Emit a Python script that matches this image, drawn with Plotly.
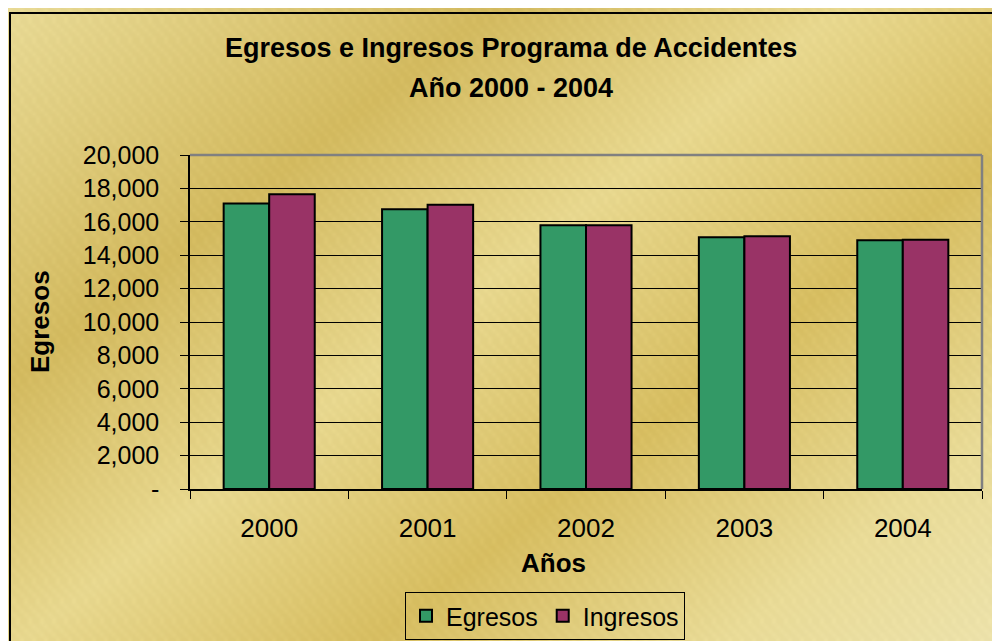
import zlib, struct, base64
import numpy as np
import plotly.graph_objects as go

# ---- data ----
years = ["2000", "2001", "2002", "2003", "2004"]
egresos = [17100, 16750, 15800, 15080, 14890]
ingresos = [17650, 17020, 15800, 15140, 14930]
y_tickvals = [0, 2000, 4000, 6000, 8000, 10000, 12000, 14000, 16000, 18000, 20000]
y_ticktext = ["-", "2,000", "4,000", "6,000", "8,000", "10,000", "12,000",
              "14,000", "16,000", "18,000", "20,000"]

# ---- gold gradient background as an inline PNG ----
W, H = 250, 160
xx, yy = np.meshgrid(np.arange(W) * 4.0, np.arange(H) * 4.0)
s = xx + 1.3 * yy
stops = [0, 500, 850, 1200, 1550, 1850]
light = np.array([0xE8, 0xDA, 0x96], float)
dark = np.array([0xD2, 0xB9, 0x5E], float)
mid = np.array([0xE7, 0xD7, 0x8E], float)
lighter = np.array([0xEC, 0xE2, 0xAC], float)
cols = [light, dark, mid, dark * 1.02, light, lighter]
img = np.zeros((H, W, 3))
for c in range(3):
    img[..., c] = np.interp(s, stops, [col[c] for col in cols])
stripe = ((xx / 4 - yy / 4 * 0.8) % 3 < 1).astype(float)
img = img + stripe[..., None] * 5
img = np.clip(img, 0, 255).astype(np.uint8)
raw = b"".join(b"\x00" + img[r].tobytes() for r in range(H))

def chunk(tag, data):
    c = struct.pack(">I", len(data)) + tag + data
    return c + struct.pack(">I", zlib.crc32(tag + data) & 0xFFFFFFFF)

png = (b"\x89PNG\r\n\x1a\n" + chunk(b"IHDR", struct.pack(">IIBBBBB", W, H, 8, 2, 0, 0, 0))
       + chunk(b"IDAT", zlib.compress(raw, 9)) + chunk(b"IEND", b""))
bg_uri = "data:image/png;base64," + base64.b64encode(png).decode()

# ---- figure ----
FONT = "Liberation Sans, Arial, sans-serif"
fig = go.Figure()
fig.add_trace(go.Bar(x=years, y=egresos, name="Egresos",
                     marker=dict(color="#339966", line=dict(color="black", width=2))))
fig.add_trace(go.Bar(x=years, y=ingresos, name="Ingresos",
                     marker=dict(color="#993366", line=dict(color="black", width=2))))

OFF = 8  # page body margin
L, T = 190 - OFF, 155 - OFF
FW, FH = 1000 - OFF, 641 - OFF
pw, ph = 792, 334
R, B = FW - L - pw, FH - T - ph

def px(xp):
    return (xp - OFF - L) / pw

def py(yp):
    return (FH - B - (yp - OFF)) / ph

fig.update_layout(
    width=FW, height=FH,
    margin=dict(l=L, r=R, t=T, b=B, autoexpand=False),
    paper_bgcolor="#DCC87A",
    plot_bgcolor="rgba(0,0,0,0)",
    barmode="group", bargap=0.425, bargroupgap=0,
    font=dict(family=FONT, size=25, color="black"),
    showlegend=True,
    legend=dict(orientation="h", x=px(545), y=py(616), xanchor="center", yanchor="middle",
                bgcolor="rgba(0,0,0,0)", bordercolor="black", borderwidth=1,
                font=dict(size=25), itemwidth=30, traceorder="normal"),
    images=[dict(source=bg_uri, xref="paper", yref="paper", x=px(0), y=py(0),
                 sizex=1000 / pw, sizey=641 / ph, sizing="stretch",
                 xanchor="left", yanchor="top", layer="below")],
)
fig.update_xaxes(showline=True, linecolor="black", linewidth=1.5,
                 ticks="outside", tickson="boundaries", ticklen=8, tickcolor="black",
                 ticklabelstandoff=15, showgrid=False, zeroline=False,
                 tickfont=dict(size=26), automargin=False)
fig.update_yaxes(range=[0, 20000], tickvals=y_tickvals, ticktext=y_ticktext,
                 showline=True, linecolor="black", linewidth=1.5,
                 ticks="outside", ticklen=8, tickcolor="black", ticklabelstandoff=16,
                 showgrid=True, gridcolor="black", gridwidth=1, zeroline=False,
                 tickfont=dict(size=25), automargin=False)

fig.add_shape(type="line", xref="paper", yref="paper", x0=0, x1=1, y0=1, y1=1,
              line=dict(color="#808080", width=2.5), layer="above")
fig.add_shape(type="line", xref="paper", yref="paper", x0=1, x1=1, y0=0, y1=1,
              line=dict(color="#808080", width=2.5), layer="above")
fig.add_shape(type="rect", xref="paper", yref="paper", x0=px(10), x1=px(1010),
              y0=py(660), y1=py(13), line=dict(color="black", width=2), layer="above")

fig.add_annotation(text="<b>Egresos e Ingresos Programa de Accidentes</b>",
                   xref="paper", yref="paper", x=px(511), y=py(48), showarrow=False,
                   font=dict(size=27), xanchor="center", yanchor="middle")
fig.add_annotation(text="<b>Año 2000 - 2004</b>",
                   xref="paper", yref="paper", x=px(511), y=py(88), showarrow=False,
                   font=dict(size=27), xanchor="center", yanchor="middle")
fig.add_annotation(text="<b>Egresos</b>", xref="paper", yref="paper", x=px(40), y=py(322),
                   textangle=-90, showarrow=False, font=dict(size=26),
                   xanchor="center", yanchor="middle")
fig.add_annotation(text="<b>Años</b>", xref="paper", yref="paper", x=px(553), y=py(563),
                   showarrow=False, font=dict(size=26), xanchor="center", yanchor="middle")

fig.write_html("out.html")
